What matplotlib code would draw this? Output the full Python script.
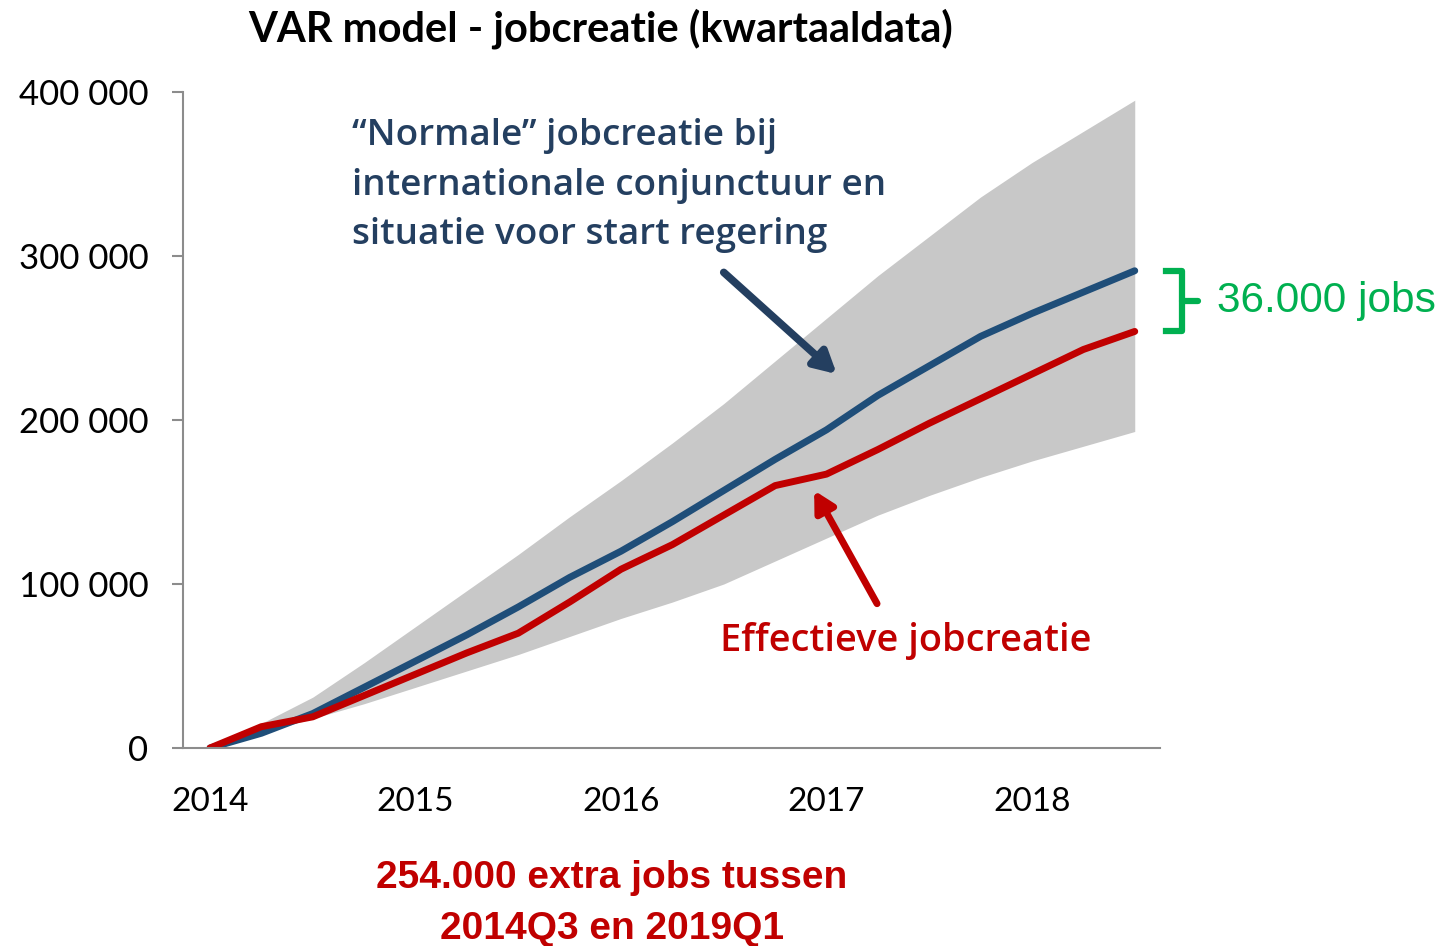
import numpy as np
import matplotlib
matplotlib.use('Agg')
import matplotlib.pyplot as plt
import matplotlib.transforms as mtransforms
from matplotlib.ticker import FuncFormatter

# ── Data (quarterly, cumulative job creation since 2014) ─────────────────────
quarters = np.arange(19)  # 0 = start 2014, step = one quarter
year_ticks = [2014, 2015, 2016, 2017, 2018]

normal_jobs = [0, 9000, 21000, 37000, 53000, 69000, 86000, 104000, 120000, 138000,
               157000, 176000, 194000, 215000, 233000, 251000, 265000, 278000, 291000]
actual_jobs = [0, 13000, 19000, 32000, 45000, 58000, 70000, 89000, 109000, 124000,
               142000, 160000, 167000, 182000, 198000, 213000, 228000, 243000, 254000]
band_upper = [0, 15000, 31000, 52000, 74000, 96000, 118000, 141000, 163000, 186000,
              210000, 236000, 262000, 288000, 312000, 336000, 357000, 376000, 395000]
band_lower = [0, 9000, 18000, 27000, 37000, 47000, 57000, 68000, 79000, 89000,
              100000, 114000, 128000, 142000, 154000, 165000, 175000, 184000, 193000]

gap_label = '36.000 jobs'
note_lines = ['254.000 extra jobs tussen', '2014Q3 en 2019Q1']

BLUE = '#1F4E79'
BLUE_TXT = '#243F60'
RED = '#C00000'
GREEN = '#00B050'
GREY_BAND = '#C8C8C8'
AXIS_GREY = '#8C8C8C'

x = 2014 + quarters / 4.0

fig = plt.figure(figsize=(14.5, 9.46), dpi=100)
ax = fig.add_axes([183 / 1450, 1 - 748 / 946, (1160 - 183) / 1450, (748 - 92) / 946])

ax.fill_between(x, band_lower, band_upper, color=GREY_BAND, lw=0)
ax.plot(x, normal_jobs, color=BLUE, lw=5, solid_capstyle='round', solid_joinstyle='round')
ax.plot(x, actual_jobs, color=RED, lw=5, solid_capstyle='round', solid_joinstyle='round')

ax.set_xlim(2014 - 27 / 205.5, 2014 + 950 / 205.5)
ax.set_ylim(0, 400000)
ax.set_xticks(year_ticks)
ax.set_yticks([0, 100000, 200000, 300000, 400000])
ax.yaxis.set_major_formatter(FuncFormatter(lambda v, p: f'{int(v):,}'.replace(',', ' ')))

for s in ['top', 'right']:
    ax.spines[s].set_visible(False)
for s in ['left', 'bottom']:
    ax.spines[s].set_color(AXIS_GREY)
    ax.spines[s].set_linewidth(1.5)

ax.tick_params(axis='y', length=8, width=1.5, color=AXIS_GREY, pad=17,
               labelsize=25, labelfontfamily='Lato')
ax.tick_params(axis='x', length=0, pad=28, labelsize=24, labelfontfamily='Lato')

# title
fig.text(601 / 1450, 1 - 29 / 946, 'VAR model - jobcreatie (kwartaaldata)',
         ha='center', va='center', fontsize=30, fontweight='bold', family='Lato')

# blue annotation
ax.text(0.173, 0.96, '\u201cNormale\u201d jobcreatie bij\ninternationale conjunctuur en\nsituatie voor start regering',
        transform=ax.transAxes, ha='left', va='top', fontsize=26.6, color=BLUE_TXT,
        fontweight='semibold', family='Open Sans', linespacing=1.5)
ax.annotate('', xy=(2017.05, 228000), xytext=(2016.5, 290000),
            arrowprops=dict(arrowstyle='-|>,head_length=1.3,head_width=0.7',
                            color=BLUE_TXT, lw=5.5, shrinkA=0, shrinkB=0))

# red annotation
ax.text(x[10] - 0.02, 65000, 'Effectieve jobcreatie', ha='left', va='center',
        fontsize=27.4, color=RED, fontweight='semibold', family='Open Sans')
ax.annotate('', xy=(2016.94, 157000), xytext=(2017.246, 88000),
            arrowprops=dict(arrowstyle='-|>,head_length=1.2,head_width=0.65',
                            color=RED, lw=5, shrinkA=0, shrinkB=0))

# green bracket between the two end values
trans = mtransforms.blended_transform_factory(ax.transAxes, ax.transData)
top, bot = normal_jobs[-1], actual_jobs[-1]
mid = (top + bot) / 2
bx0, bx1, bx2 = 1.006, 1.023, 1.039
ax.plot([bx0, bx1, bx1, bx0], [top, top, bot, bot], color=GREEN, lw=4.5,
        transform=trans, clip_on=False, solid_joinstyle='round')
ax.plot([bx1, bx2], [mid, mid], color=GREEN, lw=4.5, transform=trans,
        clip_on=False, solid_capstyle='round')
ax.text(1.058, mid, gap_label, transform=trans,
        ha='left', va='center', fontsize=30.5, color=GREEN, family='Liberation Sans')

# bottom note
fig.text(612 / 1450, 1 - 878 / 946, note_lines[0],
         ha='center', va='center', fontsize=28, color=RED, fontweight='bold',
         family='Liberation Sans')
fig.text(612 / 1450, 1 - 929 / 946, note_lines[1],
         ha='center', va='center', fontsize=28, color=RED, fontweight='bold',
         family='Liberation Sans')

fig.savefig('out.png', dpi=100)
